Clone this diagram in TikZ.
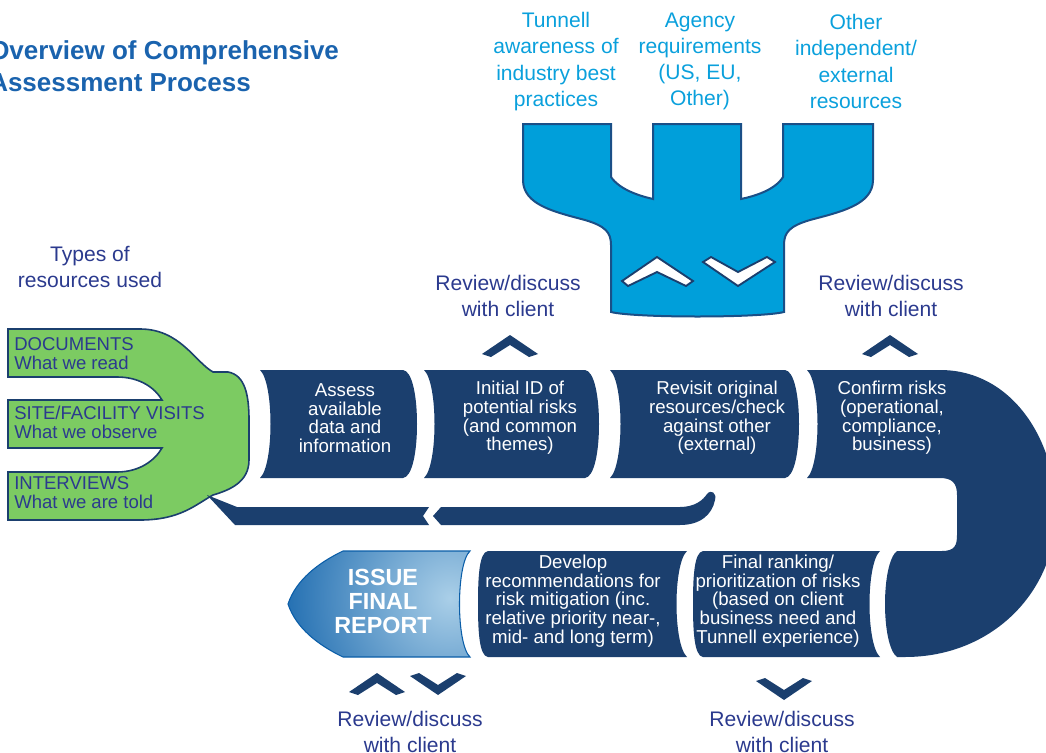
\documentclass[tikz,border=0pt]{standalone}
\usepackage{fontspec}
\setmainfont{Liberation Sans}

\definecolor{navy}{HTML}{1B3F6E}
\definecolor{skyfill}{HTML}{009FDA}
\definecolor{skytext}{HTML}{0AA0DC}
\definecolor{funneledge}{HTML}{1A4F87}
\definecolor{leafgreen}{HTML}{7CCB62}
\definecolor{inkblue}{HTML}{2B3A8E}
\definecolor{titleblue}{HTML}{1A63AE}
\definecolor{reportdark}{HTML}{0B5EA8}
\definecolor{reportlight}{HTML}{AACFE8}

\begin{document}
\begin{tikzpicture}[
  x=0.75pt, y=-0.75pt,
  stepbox/.style={fill=navy},
  steptext/.style={text=white, align=center, inner sep=0pt,
                   font=\fontsize{14}{14}\selectfont},
  review/.style={text=inkblue, align=center, inner sep=0pt,
                 font=\fontsize{15.8}{19.5}\selectfont},
  source/.style={text=skytext, align=center, inner sep=0pt,
                 font=\fontsize{15.8}{19.7}\selectfont},
  kind/.style={text=inkblue, align=left, inner sep=0pt, anchor=west,
               font=\fontsize{13.9}{14.3}\selectfont},
  chev/.style={fill=navy},
  whitechev/.style={fill=white, draw=navy, line width=1.4pt, line join=miter}
]
\useasboundingbox (0,0) rectangle (1046,753);

% Title
\node[anchor=west, align=left, inner sep=0pt, text=titleblue,
      font=\bfseries\fontsize{19.5}{24}\selectfont] (title) at (-11,66)
  {Overview of Comprehensive\\Assessment Process};

% External sources funnel
\filldraw[fill=skyfill, draw=funneledge, line width=1.5pt]
  (523,124) -- (611,124) -- (611,177)
  .. controls (620,190) and (640,196) .. (653,199) -- (653,124)
  -- (741,124) -- (741,199)
  .. controls (755,196) and (775,190) .. (783,177) -- (783,124)
  -- (873,124) -- (873,180)
  .. controls (873,205) and (840,212) .. (810,220)
  .. controls (790,226) and (784,232) .. (784,245) -- (784,312)
  .. controls (760,318) and (635,318) .. (611,312) -- (611,245)
  .. controls (611,232) and (605,226) .. (585,220)
  .. controls (555,212) and (523,205) .. (523,180) -- cycle;
\filldraw[whitechev] (622,281) -- (657,257) -- (693,281) -- (686,286)
  -- (657,272) -- (628,286) -- cycle;
\filldraw[whitechev] (703,262) -- (711,257) -- (738,272) -- (767,257)
  -- (775,262) -- (738,286) -- cycle;

\node[source] (tunnell) at (556,61.5) {Tunnell\\awareness of\\industry best\\practices};
\node[source] (agency)  at (700,61.5) {Agency\\requirements\\(US, EU,\\Other)};
\node[source] (other)   at (856,61.5) {Other\\independent/\\external\\resources};

% Resource types
\node[review] (types) at (90,267) {Types of\\resources used};
\filldraw[fill=leafgreen, draw=navy, line width=1.2pt]
  (8,329) -- (140,329) .. controls (180,329) and (195,362) .. (213,372)
  -- (228,372) .. controls (245,375) and (249,395) .. (249,420)
  -- (249,460) .. controls (249,482) and (230,490) .. (213,495)
  .. controls (195,505) and (180,520) .. (140,520) -- (8,520) -- (8,472)
  -- (117,472) .. controls (140,472) and (155,460) .. (162,448)
  -- (8,448) -- (8,400) -- (162,400)
  .. controls (155,388) and (140,377) .. (117,377) -- (8,377) -- cycle;
\node[kind] (docs)  at (14,353.5) {DOCUMENTS\\What we read};
\node[kind] (visit) at (14,422.5) {SITE/FACILITY VISITS\\What we observe};
\node[kind] (intv)  at (14,492.5) {INTERVIEWS\\What we are told};

% Top row of steps
\foreach \a/\b in {260/407, 424/589, 610/789}
  \fill[stepbox] (\a,370) -- (\b-4,370) .. controls (\b+5,371) and (\b+10,395) .. (\b+10,424)
    .. controls (\b+10,453) and (\b+5,477) .. (\b-4,478) -- (\a,478)
    .. controls (\a+14,465) and (\a+14,383) .. (\a,370) -- cycle;

% Confirm step and the turn
\fill[stepbox] (807,370) -- (940,370) .. controls (1012,370) and (1056,440) .. (1056,512)
  .. controls (1056,592) and (992,657) .. (905,657) -- (897,657)
  .. controls (881,645) and (881,563) .. (897,551) -- (942,551)
  .. controls (955,551) and (957,545) .. (957,535) -- (957,495)
  .. controls (957,484) and (953,478) .. (940,478) -- (807,478)
  .. controls (821,465) and (821,383) .. (807,370) -- cycle;

\node[steptext] (assess)  at (345,418) {Assess\\available\\data and\\information};
\node[steptext] (initial) at (520,418) {Initial ID of\\potential risks\\(and common\\themes)};
\node[steptext] (revisit) at (717,418) {Revisit original\\resources/check\\against other\\(external)};
\node[steptext] (confirm) at (892,418) {Confirm risks\\(operational,\\compliance,\\business)};

% Loop back under the top row
\fill[stepbox] (207,495) -- (237,507) -- (429,507) -- (423,516) -- (429,525)
  -- (235,525) -- cycle;
\fill[stepbox] (433,516) -- (441,507) -- (680,507)
  .. controls (695,507) and (703,500) .. (707,494)
  .. controls (711,489) and (717,493) .. (715,500)
  .. controls (712,515) and (700,525) .. (680,525) -- (441,525) -- cycle;

% Bottom row of steps
\foreach \a/\b in {478/687, 693/880}
  \fill[stepbox] (\a+10,551) -- (\b,551) .. controls (\b-14,564) and (\b-14,644) .. (\b,657)
    -- (\a+10,657) .. controls (\a+1,656) and (\a,630) .. (\a,604)
    .. controls (\a,578) and (\a+1,552) .. (\a+10,551) -- cycle;

\node[steptext] (develop) at (573,601)
  {Develop\\recommendations for\\risk mitigation (inc.\\relative priority near-,\\mid- and long term)};
\node[steptext] (ranking) at (778,601)
  {Final ranking/\\prioritization of risks\\(based on client\\business need and\\Tunnell experience)};

% Final report
\begin{scope}
  \clip (343,551) -- (470,551) .. controls (456,564) and (456,644) .. (470,657)
    -- (343,657) .. controls (318,645) and (296,628) .. (288,604)
    .. controls (296,580) and (318,563) .. (343,551) -- cycle;
  \shade[inner color=reportlight, outer color=reportdark] (450,598) circle (195);
\end{scope}
\draw[reportdark, line width=0.8pt] (343,551) -- (470,551) .. controls (456,564) and (456,644) .. (470,657)
    -- (343,657) .. controls (318,645) and (296,628) .. (288,604)
    .. controls (296,580) and (318,563) .. (343,551) -- cycle;
\node[steptext, font=\bfseries\fontsize{17.5}{18}\selectfont] (report) at (383,601)
  {ISSUE\\FINAL\\REPORT};

% Client review markers
\foreach \cx/\cy in {510/335, 890/335, 377/673}
  \fill[chev, shift={(\cx,\cy)}] (-28,19) -- (0,0) -- (28,19) -- (19,22) -- (0,10)
    -- (-19,22) -- cycle;
\foreach \cx/\cy in {438/695, 784/700}
  \fill[chev, shift={(\cx,\cy)}] (-28,-19) -- (-19,-22) -- (0,-10) -- (19,-22)
    -- (28,-19) -- (0,0) -- cycle;

\node[review] (rev1) at (508,296) {Review/discuss\\with client};
\node[review] (rev2) at (891,296) {Review/discuss\\with client};
\node[review] (rev3) at (410,732) {Review/discuss\\with client};
\node[review] (rev4) at (782,732) {Review/discuss\\with client};
\end{tikzpicture}
\end{document}
